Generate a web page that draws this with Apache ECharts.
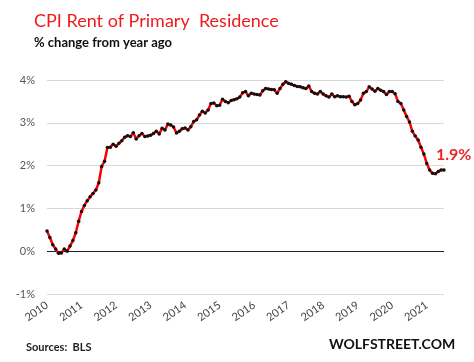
<!DOCTYPE html>
<html>
<head>
<meta charset="utf-8">
<script src="https://cdn.jsdelivr.net/npm/echarts@6/dist/echarts.min.js"></script>
<style>
html,body{margin:0;padding:0;background:#fff;}
#c{width:474px;height:362px;}
</style>
</head>
<body>
<div id="c"></div>
<script>
const startYear = 2010;
const yearLabels = ['2010','2011','2012','2013','2014','2015','2016','2017','2018','2019','2020','2021'];
const yTicks = [-1, 0, 1, 2, 3, 4];
const v2010 = [0.47,0.32,0.15,0.05,-0.05,-0.04,0.05,0.00,0.12,0.25,0.43,0.70];
const v2011 = [0.93,1.07,1.18,1.27,1.35,1.43,1.60,1.98,2.10,2.42,2.43,2.50];
const v2012 = [2.45,2.52,2.58,2.66,2.70,2.68,2.77,2.62,2.70,2.75,2.68,2.69];
const v2013 = [2.71,2.75,2.80,2.74,2.87,2.83,2.97,2.95,2.90,2.76,2.80,2.86];
const v2014 = [2.88,2.83,2.91,3.03,3.07,3.18,3.27,3.23,3.30,3.45,3.46,3.40];
const v2015 = [3.41,3.55,3.50,3.47,3.52,3.54,3.56,3.60,3.70,3.73,3.63,3.69];
const v2016 = [3.67,3.66,3.65,3.75,3.80,3.79,3.78,3.77,3.69,3.80,3.90,3.96];
const v2017 = [3.92,3.90,3.87,3.85,3.84,3.82,3.80,3.86,3.73,3.69,3.67,3.73];
const v2018 = [3.67,3.63,3.60,3.67,3.61,3.63,3.61,3.61,3.60,3.62,3.50,3.42];
const v2019 = [3.45,3.53,3.69,3.73,3.84,3.79,3.74,3.80,3.76,3.73,3.66,3.73];
const v2020 = [3.73,3.68,3.50,3.45,3.30,3.15,3.02,2.80,2.69,2.60,2.43,2.27];
const v2021 = [2.05,1.90,1.82,1.81,1.86,1.90,1.90];

const values = [].concat(v2010,v2011,v2012,v2013,v2014,v2015,v2016,v2017,v2018,v2019,v2020,v2021);
const months = values.map((_, i) => (startYear + Math.floor(i / 12)) + '-' + String(i % 12 + 1).padStart(2, '0'));

const FONT = 'Lato, "Open Sans", sans-serif';
const chart = echarts.init(document.getElementById('c'), null, {renderer: 'canvas'});
chart.setOption({
  animation: false,
  backgroundColor: '#fff',
  title: [
    {text: 'CPI Rent of Primary  Residence', left: 29, top: 7,
     textStyle: {color: '#ee1c1c', fontSize: 18, fontWeight: 'normal', fontFamily: FONT}},
    {text: '% change from year ago', left: 29, top: 31,
     textStyle: {color: '#111', fontSize: 13, fontWeight: 'bold', fontFamily: FONT}},
    {text: 'Sources:  BLS', left: 21, top: 337,
     textStyle: {color: '#222', fontSize: 11, fontWeight: 'bold', fontFamily: FONT}},
    {text: 'WOLFSTREET.COM', left: 324, top: 332,
     textStyle: {color: '#111', fontSize: 14, fontWeight: 'bold', fontFamily: FONT}}
  ],
  grid: {left: 47, right: 30, top: 80, bottom: 68, containLabel: false},
  xAxis: {
    type: 'category',
    data: months,
    boundaryGap: false,
    axisLine: {show: false, onZero: false},
    axisTick: {show: false},
    splitLine: {show: false},
    axisLabel: {
      interval: i => i % 12 === 0,
      formatter: (v, i) => yearLabels[Math.floor(i / 12)],
      rotate: 35,
      margin: 10,
      color: '#444',
      fontSize: 11,
      fontFamily: FONT
    }
  },
  yAxis: {
    type: 'value',
    min: yTicks[0],
    max: yTicks[yTicks.length - 1],
    interval: 1,
    axisLine: {show: false},
    axisTick: {show: false},
    splitLine: {lineStyle: {color: '#d9d9d9', width: 1}},
    axisLabel: {formatter: v => v + '%', color: '#555', fontSize: 11, fontFamily: FONT, margin: 12}
  },
  series: [{
    type: 'line',
    data: values,
    showSymbol: true,
    showAllSymbol: true,
    symbol: 'circle',
    symbolSize: 3.5,
    itemStyle: {color: '#111'},
    lineStyle: {color: '#ff0000', width: 2.5},
    z: 3,
    endLabel: {
      show: true,
      formatter: p => p.value + '%',
      color: '#e8262c',
      fontSize: 16,
      fontWeight: 'bold',
      fontFamily: FONT,
      offset: [-16, -15]
    },
    markLine: {
      silent: true,
      symbol: 'none',
      label: {show: false},
      lineStyle: {color: '#222', width: 1.2, type: 'solid'},
      data: [{yAxis: 0}],
      z: 2
    }
  }]
});
</script>
</body>
</html>
